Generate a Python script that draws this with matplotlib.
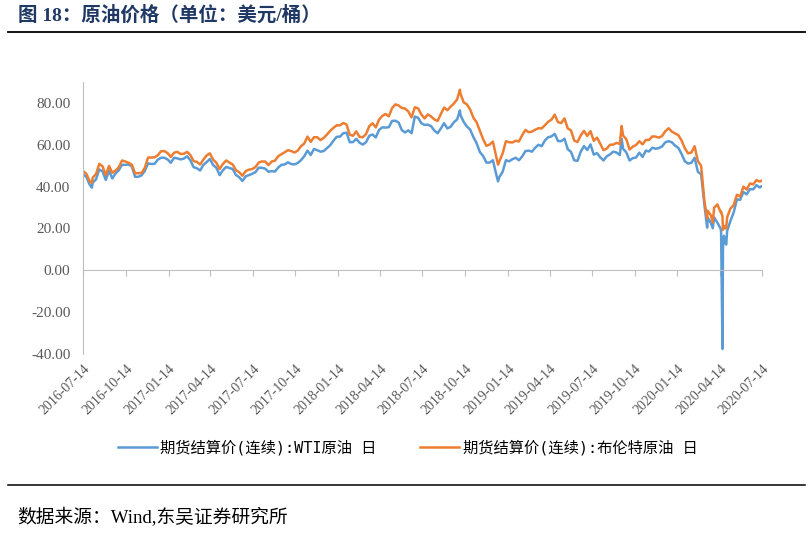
import pandas as pd
import matplotlib
matplotlib.use('Agg')
import matplotlib.pyplot as plt
from matplotlib.lines import Line2D

# weekly settle prices, one value per Thursday starting 2016-07-14
wti_2016 = [45.7, 44.8, 41.1, 41.9, 43.5, 48.2, 47.3, 43.2, 47.6, 43.9, 46.3, 47.8,
            50.4, 50.4, 50.6, 49.7, 44.7, 44.7, 45.4, 47.5, 51.1, 50.8, 50.9, 52.9, 53.8]
brent_2016 = [47.4, 46.2, 42.7, 44.3, 46.0, 50.9, 49.7, 45.5, 49.9, 46.6, 47.7, 49.2,
              52.5, 52.0, 51.4, 50.5, 46.4, 46.4, 46.5, 49.0, 53.9, 53.9, 54.0, 55.0, 56.9]

wti_2017 = [53.8, 53.0, 51.4, 53.8, 53.5, 53.0, 53.4, 54.5, 52.6, 49.3, 48.8, 47.7, 50.4,
            51.7, 53.2, 50.3, 49.0, 45.5, 47.8, 49.4, 48.9, 48.4, 45.6, 44.5, 42.7, 44.9,
            45.5, 46.1, 46.9, 49.0, 49.0, 48.6, 47.1, 47.4, 47.2, 49.1, 50.4, 50.6, 51.6,
            50.8, 50.6, 51.3, 52.6, 54.5, 57.2, 55.1, 58.0, 57.4, 56.7, 57.0, 58.4, 59.8]
brent_2017 = [57.0, 56.0, 54.2, 56.2, 56.6, 55.6, 55.7, 56.6, 55.1, 52.2, 51.8, 50.6, 52.9,
              54.9, 55.9, 52.9, 51.4, 48.4, 50.8, 52.5, 51.5, 50.6, 47.9, 46.9, 45.2, 47.4,
              48.1, 48.4, 49.3, 51.5, 52.0, 52.0, 50.3, 52.0, 52.4, 54.5, 55.5, 56.4, 57.4,
              57.0, 56.3, 57.2, 59.3, 60.6, 63.9, 61.4, 63.6, 63.6, 62.2, 63.3, 64.9, 66.7]

wti_2018 = [62.0, 63.8, 63.9, 65.5, 65.8, 61.2, 61.3, 62.8, 61.0, 60.1, 61.2, 64.3, 64.9,
            63.5, 67.1, 68.3, 68.2, 68.4, 71.4, 71.5, 70.7, 67.0, 65.9, 66.9, 65.5, 73.5,
            72.9, 70.3, 69.5, 69.6, 68.9, 66.8, 65.5, 67.8, 70.3, 67.8, 68.6, 70.8, 72.1,
            74.3, 71.0, 68.7, 67.3, 63.7, 60.7, 56.5, 54.6, 51.5, 51.5, 52.6, 46.0, 44.6]
brent_2018 = [68.1, 69.3, 69.3, 70.4, 69.7, 64.8, 64.3, 66.4, 63.8, 63.6, 65.1, 68.9, 70.3,
              68.3, 72.0, 73.8, 74.7, 73.6, 77.5, 79.3, 78.8, 77.6, 77.3, 75.9, 73.1, 77.9,
              77.4, 74.5, 72.6, 74.5, 73.5, 72.1, 71.4, 74.7, 77.8, 76.5, 78.2, 79.7, 81.7,
              84.6, 80.3, 79.3, 76.9, 72.9, 70.7, 66.6, 62.6, 59.5, 60.1, 61.5, 54.4, 52.2]

wti_2019 = [47.1, 52.6, 52.1, 53.1, 53.8, 52.6, 54.4, 57.0, 57.2, 56.7, 58.6, 60.0, 59.3,
            62.1, 63.6, 64.0, 65.2, 61.8, 61.7, 62.9, 57.9, 56.6, 52.6, 52.3, 56.7, 59.4,
            57.5, 60.2, 55.3, 56.0, 54.0, 52.5, 54.5, 55.4, 56.7, 56.3, 55.1, 58.1, 56.4,
            52.5, 53.6, 53.9, 56.2, 54.2, 57.2, 56.8, 58.6, 58.1, 58.4, 59.2, 61.2, 61.7]
brent_2019 = [55.9, 61.7, 61.2, 61.1, 61.9, 61.6, 64.6, 67.1, 66.0, 66.3, 67.2, 67.9, 67.8,
              69.4, 71.0, 72.0, 74.4, 70.8, 70.4, 72.6, 67.8, 66.9, 62.0, 61.3, 64.5, 66.6,
              64.2, 66.5, 61.9, 63.4, 60.5, 57.4, 58.2, 60.0, 60.1, 60.9, 60.4, 64.4, 62.7,
              57.7, 59.1, 59.9, 61.7, 60.2, 62.3, 62.3, 64.0, 63.9, 63.4, 64.2, 66.5, 67.9]

wti_2020 = [61.2, 59.6, 58.5, 55.6, 52.1, 51.0, 51.4, 53.8, 47.1, 45.9, 31.5, 25.2, 22.6,
            25.3, 22.8, 19.9, 16.5, 18.8, 23.6, 27.6, 33.9, 33.7, 37.4, 36.3, 38.8, 38.7,
            40.7, 39.6]
brent_2020 = [66.3, 65.4, 64.6, 62.0, 58.3, 55.9, 56.3, 59.3, 52.2, 50.0, 33.2, 28.5, 26.3,
              29.9, 31.5, 27.8, 21.3, 25.3, 29.5, 31.1, 36.1, 35.3, 40.0, 38.6, 41.5, 41.1,
              43.1, 42.4]

# single days that the weekly grid misses (lows, peaks, the April 2020 crash)
extra_dates = ['2016-08-02', '2018-10-03', '2018-12-24', '2019-09-16', '2020-03-18',
               '2020-03-30', '2020-04-17', '2020-04-20', '2020-04-21', '2020-04-22',
               '2020-04-27', '2020-04-28', '2020-07-14']
extra_wti = [39.5, 76.4, 42.5, 62.9, 20.4, 20.1, 18.3, -37.6, 10.0, 13.8, 12.8, 12.3, 40.3]
extra_brent = [41.8, 86.3, 50.5, 69.0, 24.9, 22.8, 28.1, 25.6, 19.3, 20.4, 20.0, 20.5, 42.9]

tick_labels = ['2016-07-14', '2016-10-14', '2017-01-14', '2017-04-14', '2017-07-14',
               '2017-10-14', '2018-01-14', '2018-04-14', '2018-07-14', '2018-10-14',
               '2019-01-14', '2019-04-14', '2019-07-14', '2019-10-14', '2020-01-14',
               '2020-04-14', '2020-07-14']
y_ticks = [-40, -20, 0, 20, 40, 60, 80]

wti = wti_2016 + wti_2017 + wti_2018 + wti_2019 + wti_2020
brent = brent_2016 + brent_2017 + brent_2018 + brent_2019 + brent_2020
weekly = pd.DataFrame({'date': pd.date_range('2016-07-14', periods=len(wti), freq='7D'),
                       'wti': wti, 'brent': brent})
extra = pd.DataFrame({'date': pd.to_datetime(extra_dates), 'wti': extra_wti, 'brent': extra_brent})
df = pd.concat([weekly, extra]).sort_values('date')

serif = ['Liberation Serif', 'Noto Sans CJK SC']
grey = '#595959'
axis_grey = '#BFBFBF'

fig = plt.figure(figsize=(8.11, 5.42), dpi=100)
ax = fig.add_axes([83 / 811, 1 - 354 / 542, (762 - 83) / 811, (354 - 82) / 542])

ax.plot(df['date'], df['wti'], color='#5B9BD5', lw=1.8, label='期货结算价(连续):WTI原油 日')
ax.plot(df['date'], df['brent'], color='#ED7D31', lw=1.8, label='期货结算价(连续):布伦特原油 日')

ax.set_ylim(-40, 90)
ax.set_yticks(y_ticks)
ax.set_yticklabels(['%.2f' % v for v in y_ticks], fontfamily=serif, fontsize=11, color=grey)
ax.tick_params(axis='y', length=0, pad=9)

tick_dates = pd.to_datetime(tick_labels)
ax.set_xlim(tick_dates[0], tick_dates[-1])

for s in ['top', 'right']:
    ax.spines[s].set_visible(False)
ax.spines['left'].set_color(axis_grey)
ax.spines['bottom'].set_color(axis_grey)
ax.spines['bottom'].set_position(('data', 0))

# second axes carries the date labels at the bottom of the plot area
ax2 = fig.add_axes(ax.get_position(), sharex=ax, frameon=False)
ax2.set_yticks([])
ax2.set_xticks(tick_dates)
ax2.set_xticklabels(tick_labels, rotation=45, ha='right', va='top', rotation_mode='anchor',
                    fontfamily=serif, fontsize=10, color=grey)
ax2.tick_params(axis='x', length=0, pad=6)
ax.tick_params(axis='x', length=4, color=axis_grey, labelbottom=False)

leg = ax.legend(loc='center', bbox_to_anchor=(0.5025, 1 - 448 / 542), bbox_transform=fig.transFigure,
                ncol=2, frameon=False, handlelength=2.55, handletextpad=0.2, columnspacing=2.9,
                prop={'family': ['DejaVu Sans Mono', 'Noto Sans CJK SC'], 'size': 11})

fig.text(18 / 811, 1 - 15 / 542, '图 18：原油价格（单位：美元/桶）', fontfamily=serif,
         fontweight='bold', fontsize=14, color='#1F3864', va='center')
fig.add_artist(Line2D([8 / 811, 805 / 811], [1 - 32 / 542] * 2, color='black', lw=1.3))
fig.add_artist(Line2D([8 / 811, 805 / 811], [1 - 485 / 542] * 2, color='black', lw=1.1))
fig.text(17 / 811, 1 - 518 / 542, '数据来源：Wind,东吴证券研究所', fontfamily=serif,
         fontsize=13.5, color='black', va='center')

fig.savefig('out.png', dpi=100)
